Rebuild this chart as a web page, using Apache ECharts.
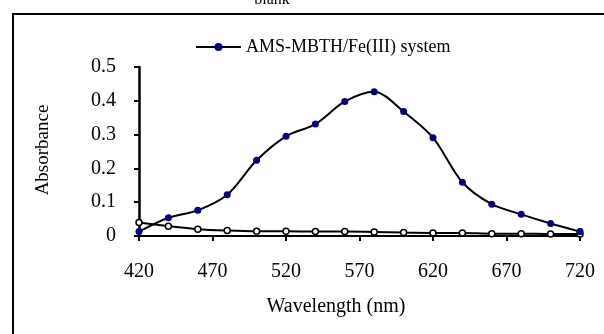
<!DOCTYPE html>
<html><head><meta charset="utf-8">
<script src="https://cdn.jsdelivr.net/npm/echarts@6/dist/echarts.min.js"></script>
<style>html,body{margin:0;padding:0;background:#fff}#c{width:604px;height:334px}</style>
</head><body><div id="c"></div>
<script>
const wavelengths = [420,440,460,480,500,520,540,560,580,600,620,640,660,680,700,720];
const systemValues = [0.013,0.054,0.076,0.122,0.224,0.295,0.331,0.398,0.427,0.368,0.291,0.159,0.094,0.064,0.037,0.013];
const blankValues = [0.040,0.029,0.020,0.016,0.014,0.014,0.013,0.013,0.012,0.010,0.009,0.009,0.007,0.007,0.006,0.006];
const systemName = 'AMS-MBTH/Fe(III) system';
const blankName = 'blank';
const xTitle = 'Wavelength (nm)';
const yTitle = 'Absorbance';

const font = 'Liberation Serif';
const chart = echarts.init(document.getElementById('c'));
chart.setOption({
  animation: false,
  backgroundColor: '#fff',
  grid: {left: 139, right: 24, top: 67, bottom: 98},
  legend: {
    data: [systemName],
    left: 195, top: 38, padding: 0,
    itemWidth: 45, itemHeight: 10, itemGap: 6,
    textStyle: {fontFamily: font, fontSize: 18, color: '#000'}
  },
  graphic: [
    {type: 'rect', shape: {x: 13, y: 14, width: 620, height: 340}, style: {fill: 'none', stroke: '#000', lineWidth: 2}, z: 100},
    {type: 'text', x: 272, y: 0, style: {text: blankName, fontFamily: font, fontSize: 16, fill: '#000', textAlign: 'center', textVerticalAlign: 'middle'}},
    {type: 'text', x: 336, y: 307, style: {text: xTitle, fontFamily: font, fontSize: 20, fill: '#000', textAlign: 'center', textVerticalAlign: 'middle'}},
    {type: 'text', x: 43, y: 150, rotation: Math.PI/2, style: {text: yTitle, fontFamily: font, fontSize: 19, fill: '#000', textAlign: 'center', textVerticalAlign: 'middle'}}
  ],
  xAxis: {
    type: 'value', min: 420, max: 720, interval: 50,
    axisLine: {show: true, onZero: false, lineStyle: {color: '#000', width: 2}},
    axisTick: {show: true, length: 5, lineStyle: {color: '#000', width: 2}},
    axisLabel: {fontFamily: font, fontSize: 20, color: '#000', margin: 26},
    splitLine: {show: false}
  },
  yAxis: {
    type: 'value', min: 0, max: 0.5, interval: 0.1,
    axisLine: {show: true, lineStyle: {color: '#000', width: 2.5}},
    axisTick: {show: true, length: 5, lineStyle: {color: '#000', width: 2}},
    axisLabel: {fontFamily: font, fontSize: 20, color: '#000', margin: 23,
      formatter: v => v === 0 ? '0' : String(Math.round(v*10)/10)},
    splitLine: {show: false}
  },
  series: [
    {
      name: blankName, type: 'line', smooth: 0.3,
      data: wavelengths.map((w,i)=>[w, blankValues[i]]),
      symbol: 'circle', symbolSize: 6,
      lineStyle: {color: '#000', width: 2},
      itemStyle: {color: '#fff', borderColor: '#000', borderWidth: 1.5},
      z: 2
    },
    {
      name: systemName, type: 'line', smooth: 0.3,
      data: wavelengths.map((w,i)=>[w, systemValues[i]]),
      symbol: 'circle', symbolSize: 7,
      lineStyle: {color: '#000', width: 2},
      itemStyle: {color: '#000080', borderColor: '#000080', borderWidth: 0},
      z: 3
    }
  ]
});
</script></body></html>
